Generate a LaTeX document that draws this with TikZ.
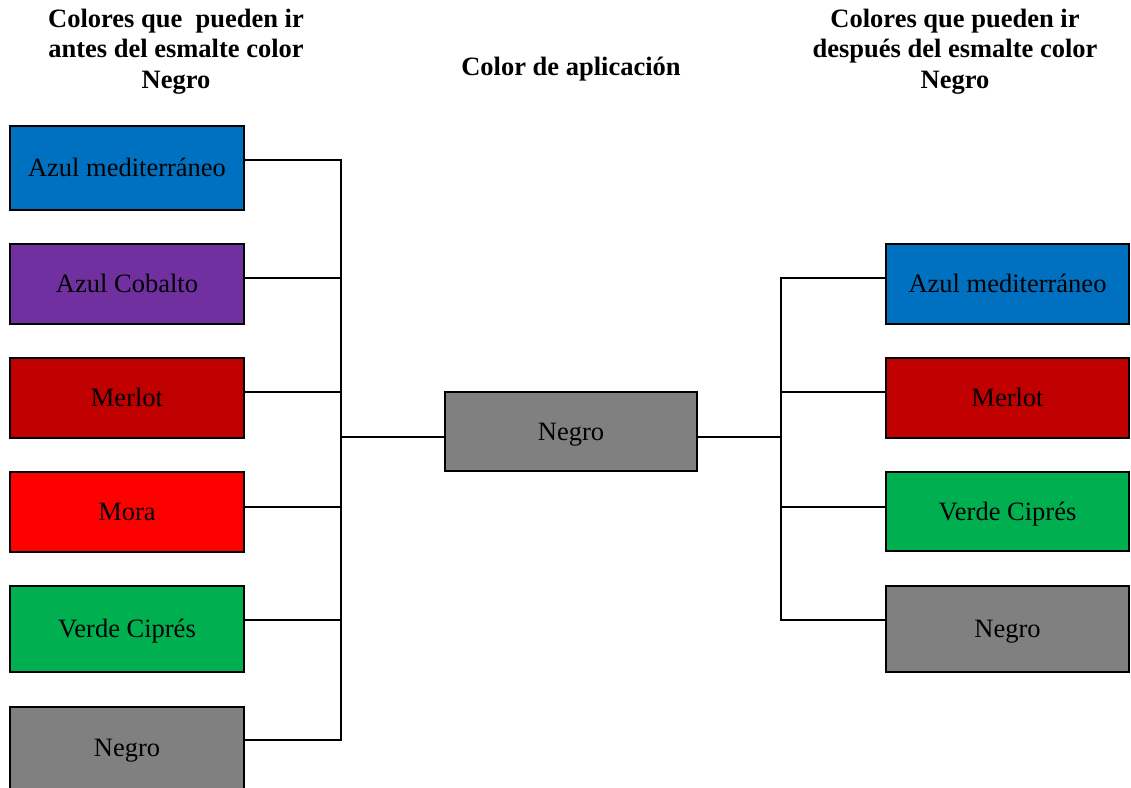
\documentclass[tikz,border=0pt]{standalone}
\usepackage{fontspec}
\setmainfont{Liberation Serif}
\definecolor{azulmed}{HTML}{0070C0}
\definecolor{cobalto}{HTML}{7030A0}
\definecolor{merlot}{HTML}{C00000}
\definecolor{mora}{HTML}{FF0000}
\definecolor{cipres}{HTML}{00B050}
\definecolor{negro}{HTML}{808080}
\begin{document}
\begin{tikzpicture}[x=1pt,y=-1pt,
  colorbox/.style={draw=black, line width=2pt, inner sep=0pt,
    text height=18pt, text depth=0.5pt,
    font=\fontsize{26.5}{30}\selectfont},
  leftbox/.style={colorbox, minimum width=234pt},
  rightbox/.style={colorbox, minimum width=243pt},
  link/.style={line width=2pt},
  head/.style={font=\bfseries\fontsize{26.5}{30.5}\selectfont, align=center, inner sep=0pt}]
\useasboundingbox (0,0) rectangle (1131,787);
\clip (0,0) rectangle (1131,787);

% headings
\node[head] (hleft) at (176,51.5) {Colores que \ pueden ir\\antes del esmalte color\\Negro};
\node[head, anchor=base] (hmid) at (571,75) {Color de aplicación};
\node[head] (hright) at (955,51.5) {Colores que pueden ir\\después del esmalte color\\Negro};

% colours applied before
\node[leftbox, fill=azulmed, minimum height=84pt] (b1) at (127,168) {Azul mediterráneo};
\node[leftbox, fill=cobalto, minimum height=80pt] (b2) at (127,284) {Azul Cobalto};
\node[leftbox, fill=merlot,  minimum height=80pt] (b3) at (127,398) {Merlot};
\node[leftbox, fill=mora,    minimum height=80pt] (b4) at (127,512) {Mora};
\node[leftbox, fill=cipres,  minimum height=86pt] (b5) at (127,629) {Verde Ciprés};
\node[leftbox, fill=negro,   minimum height=82pt] (b6) at (127,748) {Negro};

% application colour
\node[colorbox, fill=negro, minimum width=252pt, minimum height=79pt] (c) at (571,431.5) {Negro};

% colours applied after
\node[rightbox, fill=azulmed, minimum height=80pt] (r1) at (1007.5,284) {Azul mediterráneo};
\node[rightbox, fill=merlot,  minimum height=80pt] (r2) at (1007.5,398) {Merlot};
\node[rightbox, fill=cipres,  minimum height=79pt] (r3) at (1007.5,511.5) {Verde Ciprés};
\node[rightbox, fill=negro,   minimum height=86pt] (r4) at (1007.5,629) {Negro};

% left bracket
\coordinate (ltop) at (341,160);
\coordinate (lbot) at (341,740);
\draw[link] ([yshift=8pt]b1.east) -- (ltop) -- (lbot) -- ([yshift=8pt]b6.east);
\draw[link] ([yshift=6pt]b2.east) -| (ltop);
\draw[link] ([yshift=6pt]b3.east) -| (ltop);
\draw[link] ([yshift=5pt]b4.east) -| (ltop);
\draw[link] ([yshift=9pt]b5.east) -| (ltop);
\draw[link] ([yshift=-5.5pt]c.west) -| (ltop);

% right bracket
\coordinate (rtop) at (781,278);
\coordinate (rbot) at (781,620);
\draw[link] ([yshift=6pt]r1.west) -- (rtop) -- (rbot) -- ([yshift=9pt]r4.west);
\draw[link] ([yshift=6pt]r2.west) -| (rtop);
\draw[link] ([yshift=4.5pt]r3.west) -| (rtop);
\draw[link] ([yshift=-5.5pt]c.east) -| (rtop);
\end{tikzpicture}
\end{document}
